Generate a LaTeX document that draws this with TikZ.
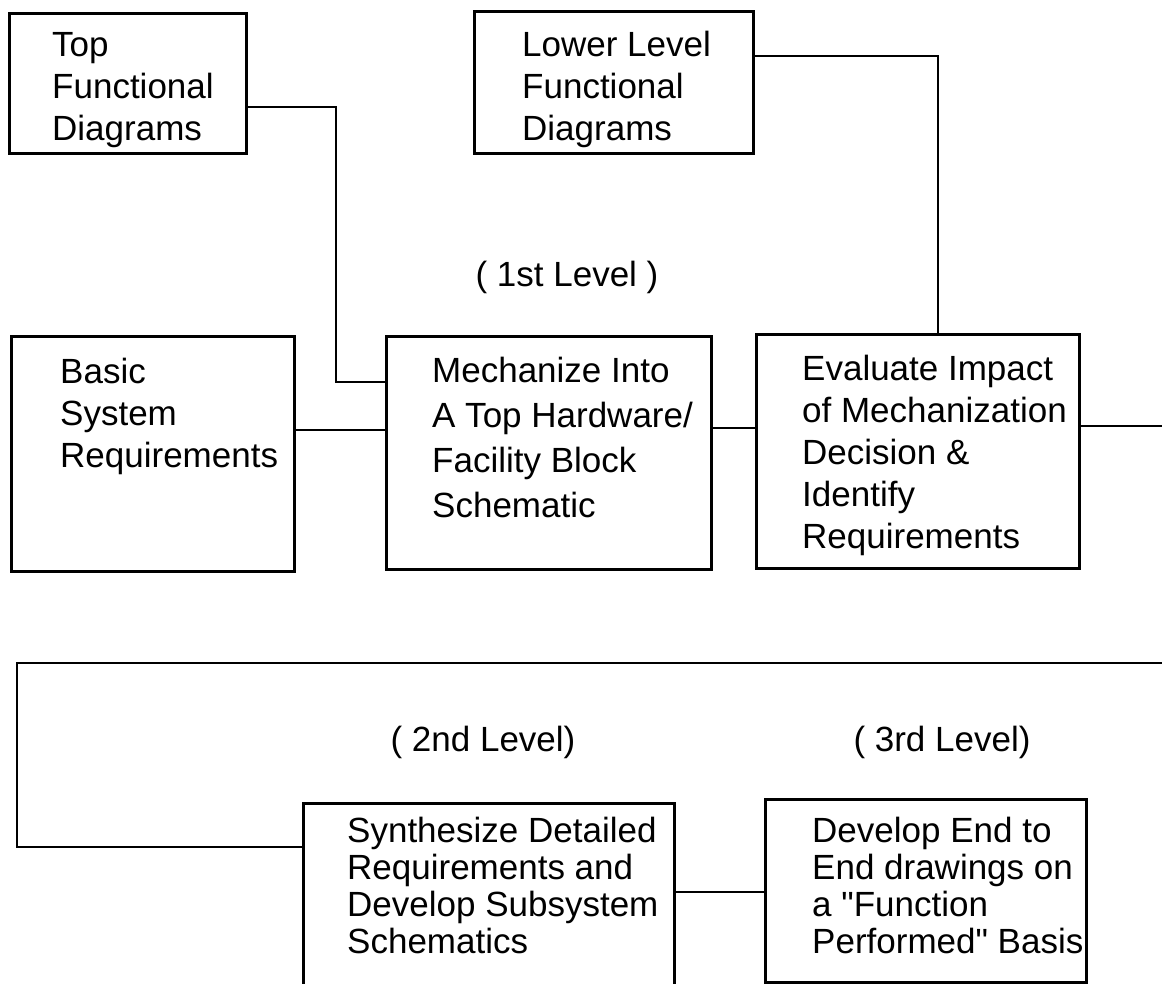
\documentclass[tikz,border=0pt]{standalone}
\usepackage{fontspec}
\setmainfont{Liberation Sans}
\tikzset{
  blk/.style={draw, line width=2.6pt, anchor=north west, inner sep=0pt},
  txt/.style={anchor=base west, inner sep=0pt, align=left, font=\fontsize{35}{42}\selectfont},
  txtlow/.style={txt, font=\fontsize{35}{37}\selectfont},
  lvl/.style={inner sep=0pt, font=\fontsize{35}{42}\selectfont},
  wire/.style={line width=2.6pt}
}

\begin{document}
\begin{tikzpicture}[x=1pt,y=-1pt]
\useasboundingbox (0,0) rectangle (1162,983);
% boxes
\node[blk, minimum width=237pt, minimum height=140pt] (topfd) at (8,12) {};
\node[blk, minimum width=279pt, minimum height=142pt] (lowerfd) at (473,10) {};
\node[blk, minimum width=283pt, minimum height=235pt] (basic) at (10,335) {};
\node[blk, minimum width=325pt, minimum height=233pt] (mech) at (385,335) {};
\node[blk, minimum width=323pt, minimum height=234pt] (eval) at (755,333) {};
\node[blk, minimum width=371pt, minimum height=193pt] (synth) at (302,802) {};
\node[blk, minimum width=321pt, minimum height=183pt] (dev) at (764,798) {};
% box texts (base = last line)
\node[txt] (topfdtxt) at ([shift={(44,128)}]topfd.north west) {Top\\Functional\\Diagrams};
\node[txt] (lowerfdtxt) at ([shift={(49,130)}]lowerfd.north west) {Lower Level\\Functional\\Diagrams};
\node[txt] (basictxt) at ([shift={(50,132)}]basic.north west) {Basic\\System\\Requirements};
\node[txt, font=\fontsize{35}{45}\selectfont] (mechtxt) at ([shift={(47,182)}]mech.north west) {Mechanize Into\\A Top Hardware/\\Facility Block\\Schematic};
\node[txt] (evaltxt) at ([shift={(47,215)}]eval.north west) {Evaluate Impact\\of Mechanization\\Decision \&\\Identify\\Requirements};
\node[txtlow] (synthtxt) at ([shift={(45,151)}]synth.north west) {Synthesize Detailed\\Requirements and\\Develop Subsystem\\Schematics};
\node[txtlow] (devtxt) at ([shift={(48,155)}]dev.north west) {Develop End to\\End drawings on\\a \textquotedbl Function\\Performed\textquotedbl\ Basis};
% levels
\node[lvl] (lvlone) at (567,277) {( 1st Level )};
\node[lvl] (lvltwo) at (483,742) {( 2nd Level)};
\node[lvl] (lvlthree) at (942,742) {( 3rd Level)};
% connectors
\coordinate (b1) at (336,107);
\coordinate (b2) at (336,382);
\draw[wire] (topfd.east |- b1) -- (b1) -- (b2) -- (mech.west |- b2);
\coordinate (b3) at (938,56);
\draw[wire] (lowerfd.east |- b3) -- (b3) -- (eval.north -| b3);
\coordinate (b4) at (0,430);
\draw[wire] (basic.east |- b4) -- (mech.west |- b4);
\coordinate (b5) at (0,428);
\draw[wire] (mech.east |- b5) -- (eval.west |- b5);
\coordinate (b6) at (1162,426);
\draw[wire] (eval.east |- b6) -- (b6);
\coordinate (b7) at (1162,663);
\coordinate (b8) at (17,663);
\coordinate (b9) at (17,847);
\draw[wire] (b7) -- (b8) -- (b9) -- (synth.west |- b9);
\coordinate (b10) at (0,892);
\draw[wire] (synth.east |- b10) -- (dev.west |- b10);
\end{tikzpicture}
\end{document}
